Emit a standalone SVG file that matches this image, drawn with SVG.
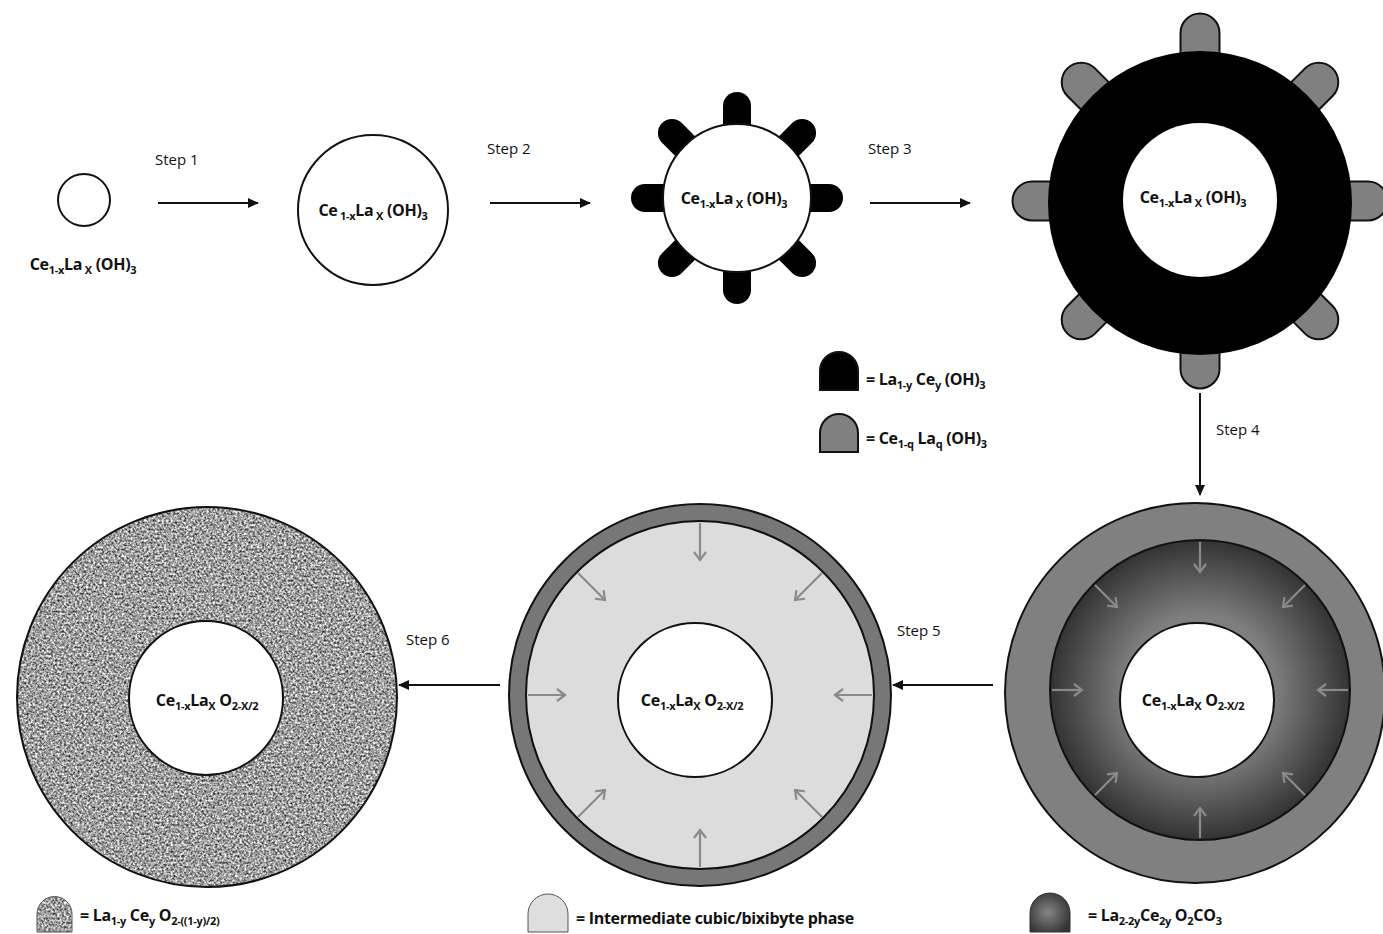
<svg xmlns="http://www.w3.org/2000/svg" xmlns:xlink="http://www.w3.org/1999/xlink" width="1383" height="934" viewBox="0 0 1383 934">
<style>
.lbl{font-family:"Open Sans","Liberation Sans",sans-serif;font-weight:bold;font-size:16px;fill:#111;letter-spacing:-0.3px}
.sub{font-size:11px}
.step{font-family:"Open Sans","Liberation Sans",sans-serif;font-size:15px;fill:#111}
.conn{stroke:#111;stroke-width:2;fill:none}
.garr{stroke:#8a8a8a;stroke-width:2.2;fill:none}
.ol{stroke:#111;stroke-width:2}
</style>
<defs>
<marker id="ah" markerWidth="12" markerHeight="10" refX="10" refY="5" orient="auto" markerUnits="userSpaceOnUse">
<path d="M0,0 L11,5 L0,10 Z" fill="#111"/>
</marker>
<marker id="gh" markerWidth="14" markerHeight="14" refX="10" refY="7" orient="auto" markerUnits="userSpaceOnUse">
<path d="M2,1 L10,7 L2,13" fill="none" stroke="#8a8a8a" stroke-width="2.2"/>
</marker>
<path id="knobB" d="M-14,-60 V-92 A14 14 0 0 1 14,-92 V-60 Z" fill="#000"/>
<path id="knobG" d="M-19.5,-135 V-168 A19.5 19.5 0 0 1 19.5,-168 V-135 Z" fill="#808080" stroke="#111" stroke-width="2"/>
<filter id="speckle" x="0" y="0" width="1" height="1" color-interpolation-filters="sRGB">
<feTurbulence type="fractalNoise" baseFrequency="0.45" numOctaves="2" seed="7" result="n"/>
<feColorMatrix in="n" type="matrix" values="1.4 0 0 0 -0.08  1.4 0 0 0 -0.08  1.4 0 0 0 -0.08  0 0 0 0 1" result="g"/>
<feComposite in="g" in2="SourceGraphic" operator="in"/>
</filter>
<radialGradient id="darkg" gradientUnits="userSpaceOnUse" cx="1200" cy="690" r="150">
<stop offset="0.5" stop-color="#7e7e7e"/>
<stop offset="1" stop-color="#333"/>
</radialGradient>
<radialGradient id="darkLeg" cx="0.45" cy="0.5" r="0.6">
<stop offset="0" stop-color="#858585"/>
<stop offset="1" stop-color="#333"/>
</radialGradient>
</defs>
<rect width="1383" height="934" fill="#fff"/>

<g id="connectors">
<line class="conn" x1="158" y1="203" x2="258" y2="203" marker-end="url(#ah)"/>
<line class="conn" x1="490" y1="203" x2="590" y2="203" marker-end="url(#ah)"/>
<line class="conn" x1="870" y1="203" x2="970" y2="203" marker-end="url(#ah)"/>
<line class="conn" x1="1200" y1="393" x2="1200" y2="495" marker-end="url(#ah)"/>
<line class="conn" x1="993" y1="685" x2="893" y2="685" marker-end="url(#ah)"/>
<line class="conn" x1="500" y1="685" x2="399" y2="685" marker-end="url(#ah)"/>
<text class="step" x="155" y="165">Step 1</text>
<text class="step" x="487" y="154">Step 2</text>
<text class="step" x="868" y="154">Step 3</text>
<text class="step" x="1216" y="435">Step 4</text>
<text class="step" x="897" y="636">Step 5</text>
<text class="step" x="406" y="645">Step 6</text>
</g>

<g id="node-seed">
<circle cx="84" cy="200" r="26" fill="#fff" class="ol"/>
<text class="lbl" x="83" y="270" text-anchor="middle">Ce<tspan class="sub" dy="4">1-x</tspan><tspan dy="-4">La</tspan><tspan class="sub" dy="4"> X</tspan><tspan dy="-4"> (OH)</tspan><tspan class="sub" dy="4">3</tspan></text>
</g>

<g id="node-grown">
<circle cx="373" cy="210" r="75" fill="#fff" class="ol"/>
<text class="lbl" x="373" y="216" text-anchor="middle">Ce<tspan class="sub" dy="4"> 1-x</tspan><tspan dy="-4">La</tspan><tspan class="sub" dy="4"> X</tspan><tspan dy="-4"> (OH)</tspan><tspan class="sub" dy="4">3</tspan></text>
</g>

<g id="node-step2">
<use xlink:href="#knobB" transform="translate(737,198) rotate(0)"/>
<use xlink:href="#knobB" transform="translate(737,198) rotate(45)"/>
<use xlink:href="#knobB" transform="translate(737,198) rotate(90)"/>
<use xlink:href="#knobB" transform="translate(737,198) rotate(135)"/>
<use xlink:href="#knobB" transform="translate(737,198) rotate(180)"/>
<use xlink:href="#knobB" transform="translate(737,198) rotate(225)"/>
<use xlink:href="#knobB" transform="translate(737,198) rotate(270)"/>
<use xlink:href="#knobB" transform="translate(737,198) rotate(315)"/>
<circle cx="737" cy="198" r="74" fill="#fff" class="ol"/>
<text class="lbl" x="734" y="204" text-anchor="middle">Ce<tspan class="sub" dy="4">1-x</tspan><tspan dy="-4">La</tspan><tspan class="sub" dy="4"> X</tspan><tspan dy="-4"> (OH)</tspan><tspan class="sub" dy="4">3</tspan></text>
</g>

<g id="node-step3">
<use xlink:href="#knobG" transform="translate(1200,201) rotate(0)"/>
<use xlink:href="#knobG" transform="translate(1200,201) rotate(45)"/>
<use xlink:href="#knobG" transform="translate(1200,201) rotate(90)"/>
<use xlink:href="#knobG" transform="translate(1200,201) rotate(135)"/>
<use xlink:href="#knobG" transform="translate(1200,201) rotate(180)"/>
<use xlink:href="#knobG" transform="translate(1200,201) rotate(225)"/>
<use xlink:href="#knobG" transform="translate(1200,201) rotate(270)"/>
<use xlink:href="#knobG" transform="translate(1200,201) rotate(315)"/>
<circle cx="1200" cy="203" r="152" fill="#000"/>
<circle cx="1200" cy="200" r="77" fill="#fff"/>
<text class="lbl" x="1193" y="203" text-anchor="middle">Ce<tspan class="sub" dy="4">1-x</tspan><tspan dy="-4">La</tspan><tspan class="sub" dy="4"> X</tspan><tspan dy="-4"> (OH)</tspan><tspan class="sub" dy="4">3</tspan></text>
</g>

<g id="legend-top">
<path d="M820,390 V371 A19 19 0 0 1 858,371 V390 Z" fill="#000" stroke="#111" stroke-width="2"/>
<text class="lbl" x="866" y="385">= La<tspan class="sub" dy="4">1-y</tspan><tspan dy="-4"> Ce</tspan><tspan class="sub" dy="4">y</tspan><tspan dy="-4"> (OH)</tspan><tspan class="sub" dy="4">3</tspan></text>
<path d="M820,452 V433 A19 19 0 0 1 858,433 V452 Z" fill="#808080" stroke="#111" stroke-width="2"/>
<text class="lbl" x="866" y="444">= Ce<tspan class="sub" dy="4">1-q</tspan><tspan dy="-4">  La</tspan><tspan class="sub" dy="4">q</tspan><tspan dy="-4"> (OH)</tspan><tspan class="sub" dy="4">3</tspan></text>
</g>

<g id="node-step4">
<circle cx="1195" cy="693" r="190" fill="#808080" class="ol"/>
<circle cx="1200" cy="690" r="150" fill="url(#darkg)" class="ol"/>
<g class="garr">
<line x1="1200" y1="542" x2="1200" y2="572" marker-end="url(#gh)"/>
<line x1="1200" y1="838" x2="1200" y2="808" marker-end="url(#gh)"/>
<line x1="1052" y1="690" x2="1082" y2="690" marker-end="url(#gh)"/>
<line x1="1348" y1="690" x2="1318" y2="690" marker-end="url(#gh)"/>
<line x1="1095" y1="585" x2="1117" y2="607" marker-end="url(#gh)"/>
<line x1="1305" y1="585" x2="1283" y2="607" marker-end="url(#gh)"/>
<line x1="1095" y1="795" x2="1117" y2="773" marker-end="url(#gh)"/>
<line x1="1305" y1="795" x2="1283" y2="773" marker-end="url(#gh)"/>
</g>
<circle cx="1197" cy="700" r="77" fill="#fff" class="ol"/>
<text class="lbl" x="1193" y="706" text-anchor="middle">Ce<tspan class="sub" dy="4">1-x</tspan><tspan dy="-4">La</tspan><tspan class="sub" dy="4">X</tspan><tspan dy="-4"> O</tspan><tspan class="sub" dy="4">2-X/2</tspan></text>
</g>

<g id="node-step5">
<circle cx="700" cy="695" r="191" fill="#777" class="ol"/>
<circle cx="700" cy="695" r="174" fill="#dcdcdc" class="ol"/>
<g class="garr">
<line x1="700" y1="523" x2="700" y2="560" marker-end="url(#gh)"/>
<line x1="700" y1="867" x2="700" y2="830" marker-end="url(#gh)"/>
<line x1="528" y1="695" x2="565" y2="695" marker-end="url(#gh)"/>
<line x1="872" y1="695" x2="835" y2="695" marker-end="url(#gh)"/>
<line x1="578" y1="573" x2="605" y2="600" marker-end="url(#gh)"/>
<line x1="822" y1="573" x2="795" y2="600" marker-end="url(#gh)"/>
<line x1="578" y1="817" x2="605" y2="790" marker-end="url(#gh)"/>
<line x1="822" y1="817" x2="795" y2="790" marker-end="url(#gh)"/>
</g>
<circle cx="695" cy="700" r="77" fill="#fff" class="ol"/>
<text class="lbl" x="692" y="706" text-anchor="middle">Ce<tspan class="sub" dy="4">1-x</tspan><tspan dy="-4">La</tspan><tspan class="sub" dy="4">X</tspan><tspan dy="-4"> O</tspan><tspan class="sub" dy="4">2-X/2</tspan></text>
</g>

<g id="node-step6">
<circle cx="207" cy="697" r="190" fill="#000" filter="url(#speckle)"/>
<circle cx="207" cy="697" r="190" fill="none" class="ol"/>
<circle cx="206" cy="698" r="77" fill="#fff" class="ol"/>
<text class="lbl" x="207" y="706" text-anchor="middle">Ce<tspan class="sub" dy="4">1-x</tspan><tspan dy="-4">La</tspan><tspan class="sub" dy="4">X</tspan><tspan dy="-4"> O</tspan><tspan class="sub" dy="4">2-X/2</tspan></text>
</g>

<g id="legend-bottom">
<path d="M37,932 V914 A17.5 17.5 0 0 1 72,914 V932 Z" fill="#000" filter="url(#speckle)"/>
<path d="M37,932 V914 A17.5 17.5 0 0 1 72,914 V932 Z" fill="none" stroke="#555" stroke-width="1"/>
<text class="lbl" x="80" y="921">= La<tspan class="sub" dy="4">1-y</tspan><tspan dy="-4"> Ce</tspan><tspan class="sub" dy="4">y</tspan><tspan dy="-4"> O</tspan><tspan class="sub" dy="4">2-((1-y)/2)</tspan></text>
<path d="M528,932 V914 A20 20 0 0 1 568,914 V932 Z" fill="#dedede" stroke="#555" stroke-width="1"/>
<text class="lbl" x="576" y="924">= Intermediate cubic/bixibyte phase</text>
<path d="M1030,932 V913 A20 20 0 0 1 1070,913 V932 Z" fill="url(#darkLeg)" stroke="#333" stroke-width="1"/>
<text class="lbl" x="1088" y="921">= La<tspan class="sub" dy="4">2-2y</tspan><tspan dy="-4">Ce</tspan><tspan class="sub" dy="4">2y</tspan><tspan dy="-4"> O</tspan><tspan class="sub" dy="4">2</tspan><tspan dy="-4">CO</tspan><tspan class="sub" dy="4">3</tspan></text>
</g>
</svg>
